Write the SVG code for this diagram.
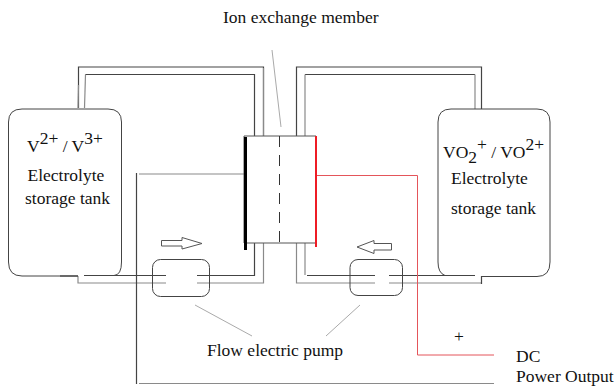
<svg xmlns="http://www.w3.org/2000/svg" width="616" height="388" viewBox="0 0 616 388">
<style>
text{font-family:"Liberation Serif","Times New Roman",serif;fill:#111;font-size:17.500px}
.l{fill:none;stroke:#333;stroke-width:1}
.g{fill:none;stroke:#8a8a8a;stroke-width:1.2}
.d{fill:none;stroke:#444;stroke-width:1.2}
.lead{fill:none;stroke:#aaa;stroke-width:1}
.red{fill:none;stroke:#e4555a;stroke-width:1}
</style>
<rect width="616" height="388" fill="#fff"/>
<g id="connectors">
<path class="d" d="M78.500 108V67H263.500V136"/>
<path class="g" d="M84.500 108L85.500 74.500"/>
<path class="d" d="M85.500 74.500H254.500V136"/>
<path class="g" d="M78 108L78.500 85"/>
<path class="d" d="M296.500 136V67H481.500V109"/>
<path class="d" d="M305 74.500H475"/>
<path class="g" d="M305 74.500V136M475 74.500V109M263.500 68V136"/>
<path class="d" d="M254.500 243V275.500H84"/>
<path class="g" d="M263.500 243V283H78V276"/>
<path class="d" d="M60 276H78"/>
<path class="g" d="M305 243V275"/>
<path class="d" d="M307 275.500H475"/>
<path class="g" d="M296.500 243V283H481.500"/>
<path class="d" d="M481.500 276V284"/>
<path class="g" d="M139 174H244"/>
<path class="d" d="M136.500 173V384"/>
<path class="g" d="M139 383.500H494"/>
<path class="red" d="M317 175.500H417.500V355H494"/>
<path class="lead" d="M272 50L281 127M195 305L252 336M360 305L326 336"/>
</g>
<g id="tank-left">
<path fill="none" stroke="#444" d="M78 276H22Q8.500 276 8.500 262V122Q8.500 109 22 109H108Q121.500 109 121.500 122V262Q121.500 275 114 275.500"/>
<text x="27" y="152">V<tspan dy="-8">2+</tspan><tspan dy="8"> / V</tspan><tspan dy="-8">3+</tspan></text>
<text x="27.500" y="181">Electrolyte</text>
<text x="25" y="204">storage tank</text>
</g>
<g id="tank-right">
<path fill="none" stroke="#444" d="M445 275.500Q438 273 438 262V122Q438 109 451 109H537Q550 109 550 122V262Q550 276.500 537 276.500H481"/>
<text x="443" y="158">VO<tspan dy="5">2</tspan><tspan dy="-13">+</tspan><tspan dy="8"> / VO</tspan><tspan dy="-8">2+</tspan></text>
<text x="451" y="184">Electrolyte</text>
<text x="451" y="214">storage tank</text>
</g>
<g id="membrane">
<path fill="#fff" stroke="#555" stroke-width="1" d="M244 136H316V243H244Z"/>
<path fill="none" stroke="#333" stroke-width="1" stroke-dasharray="11 8" d="M279.500 136V243"/>
<path fill="none" stroke="#000" stroke-width="3" d="M245.500 137V250"/>
<path fill="none" stroke="#ee1c25" stroke-width="2" d="M316 136V247"/>
</g>
<g id="pump-left">
<rect x="152.500" y="259.500" width="57" height="37" rx="8" fill="none" stroke="#444"/>
<path fill="#fff" d="M166 272H197V286H166Z"/>
</g>
<g id="pump-right">
<rect x="350" y="259.500" width="52.500" height="36" rx="8" fill="none" stroke="#444"/>
<path fill="#fff" d="M375 272H389V286H375Z"/>
</g>
<g id="arrow-right">
<path fill="#fff" stroke="#555" d="M161.500 240.500H182V237.500L202 243.500L182 249V246H161.500Z"/>
</g>
<g id="arrow-left">
<path fill="#fff" stroke="#555" d="M391.500 243.500H374V240.500L357 247L374 253.500V250H391.500Z"/>
</g>
<g id="labels">
<text x="223" y="23">Ion exchange member</text>
<text x="207" y="356">Flow electric pump</text>
<text x="454" y="342">+</text>
<text x="516" y="362">DC</text>
<text x="516" y="382">Power Output</text>
</g>
</svg>
